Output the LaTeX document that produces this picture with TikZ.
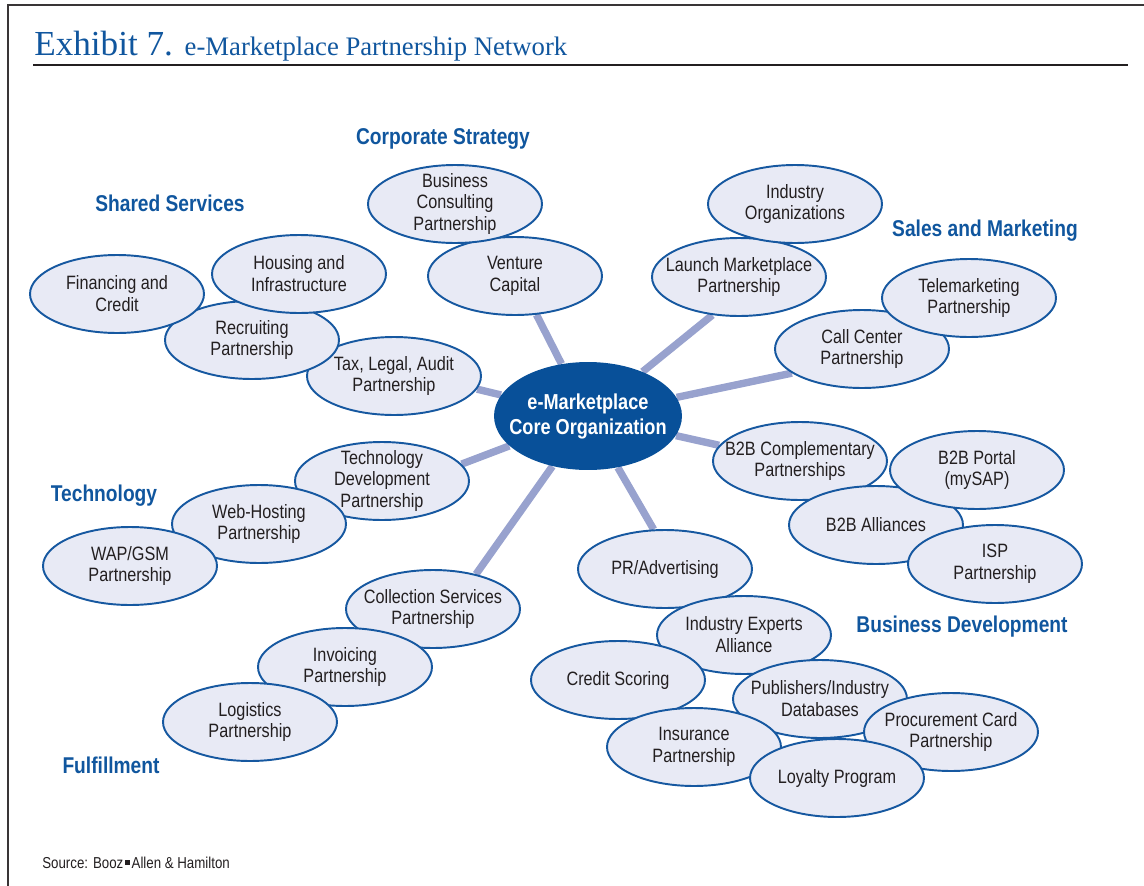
\documentclass[tikz,border=0pt]{standalone}
\usepackage{fontspec}
\setmainfont[FakeStretch=0.84]{Liberation Sans}
\newfontfamily\titlefont{Liberation Serif}
\usepackage{tikz}
\usetikzlibrary{shapes.geometric,backgrounds}
\definecolor{coreblue}{RGB}{8,80,153}
\definecolor{rimblue}{RGB}{22,88,160}
\definecolor{cellfill}{RGB}{232,234,245}
\definecolor{linkblue}{RGB}{152,162,206}
\definecolor{headblue}{RGB}{16,86,158}
\definecolor{inkgray}{RGB}{35,31,32}

\begin{document}
\begin{tikzpicture}[x=0.02cm, y=-0.02cm]
	\tikzstyle{partner} = [ellipse, draw = rimblue, line width = 1.1pt, fill = cellfill, text = inkgray,
		minimum width = 3.48cm, minimum height = 1.56cm, inner xsep = -8pt, inner ysep = -3pt,
		align = center, font = \fontsize{11}{12.5}\selectfont]
	\tikzstyle{group} = [text = headblue, font = \bfseries\fontsize{13}{13}\selectfont]
	\tikzstyle{link} = [draw = linkblue, line width = 4.2pt]
\useasboundingbox (0,0) rectangle (1144,886);
% frame and title
\draw[inkgray!90, line width = 1.1pt] (8,886) -- (8,5) -- (1144,5);
\draw[inkgray, line width = 0.8pt] (33,65) -- (1128,65);
\node[anchor = base west, inner sep = 0, text = headblue] (title) at (34,55)
	{\titlefont\fontsize{20}{20}\selectfont Exhibit 7. \fontsize{15.2}{15.2}\selectfont e-Marketplace Partnership Network};
\node[anchor = base west, inner sep = 0, text = inkgray, font = \fontsize{9}{9}\selectfont] (source) at (42,868)
	{Source: Booz\hspace{1.2pt}\rule[0.22em]{0.26em}{0.26em}\hspace{1.2pt}Allen \& Hamilton};
% core
\node[ellipse, fill = coreblue, text = white, minimum width = 3.76cm, minimum height = 2.16cm,
	inner xsep = -8pt, inner ysep = -3pt, align = center,
	font = \bfseries\fontsize{12.3}{14.2}\selectfont] (0) at (588,416) {e-Marketplace\\Core Organization};
% shared services
\node[partner] (1) at (394,376) {Tax, Legal, Audit\\Partnership};
\node[partner] (2) at (252,340) {Recruiting\\Partnership};
\node[partner] (3) at (299,274) {Housing and\\Infrastructure};
\node[partner] (4) at (117,294) {Financing and\\Credit};
% corporate strategy
\node[partner] (5) at (515,276) {Venture\\Capital};
\node[partner] (6) at (455,204) {Business\\Consulting\\Partnership};
% sales and marketing
\node[partner] (7) at (739,277) {Launch Marketplace\\Partnership};
\node[partner] (8) at (795,204) {Industry\\Organizations};
\node[partner] (9) at (862,349) {Call Center\\Partnership};
\node[partner] (10) at (969,298) {Telemarketing\\Partnership};
% business development
\node[partner] (11) at (800,461) {B2B Complementary\\Partnerships};
\node[partner] (12) at (876,525) {B2B Alliances};
\node[partner] (13) at (977,470) {B2B Portal\\(mySAP)};
\node[partner] (14) at (995,564) {ISP\\Partnership};
\node[partner] (15) at (665,569) {PR/Advertising};
\node[partner] (16) at (744,635) {Industry Experts\\Alliance};
\node[partner] (17) at (618,680) {Credit Scoring};
\node[partner] (18) at (820,699) {Publishers/Industry\\Databases};
\node[partner] (19) at (951,732) {Procurement Card\\Partnership};
\node[partner] (20) at (694,747) {Insurance\\Partnership};
\node[partner] (21) at (837,778) {Loyalty Program};
% technology
\node[partner] (22) at (382,481) {Technology\\Development\\Partnership};
\node[partner] (23) at (259,524) {Web-Hosting\\Partnership};
\node[partner] (24) at (130,566) {WAP/GSM\\Partnership};
% fulfillment
\node[partner] (25) at (433,609) {Collection Services\\Partnership};
\node[partner] (26) at (345,667) {Invoicing\\Partnership};
\node[partner] (27) at (250,722) {Logistics\\Partnership};
% group headings
\node[group] (g1) at (443,139) {Corporate Strategy};
\node[group] (g2) at (170,203) {Shared Services};
\node[group] (g3) at (985,231) {Sales and Marketing};
\node[group] (g4) at (104,496) {Technology};
\node[group] (g5) at (962,627) {Business Development};
\node[group] (g6) at (111,765) {Fulfillment};
\begin{scope}[on background layer]
	\path[draw][link] (0) -- (5.-61);
	\path[draw][link] (0) -- (7.-125);
	\path[draw][link] (0) -- (9.-161);
	\path[draw][link] (0) -- (11.169);
	\path[draw][link] (0) -- (15.106);
	\path[draw][link] (0) -- (25.39);
	\path[draw][link] (0) -- (22.12);
	\path[draw][link] (0) -- (1.-9);
\end{scope}
    \end{tikzpicture}
\end{document}
